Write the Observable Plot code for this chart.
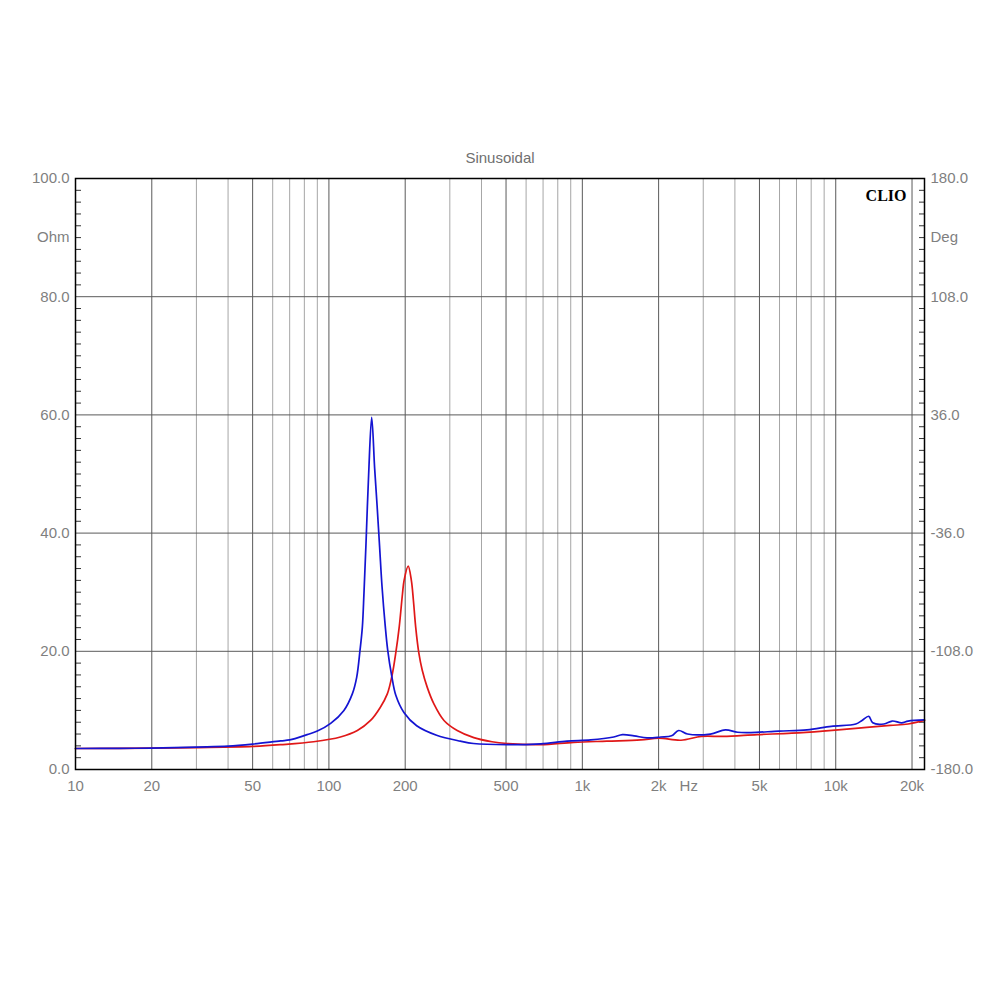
<!DOCTYPE html>
<html>
<head>
<meta charset="utf-8">
<script src="https://cdn.jsdelivr.net/npm/d3@7"></script>
<script src="https://cdn.jsdelivr.net/npm/@observablehq/plot@0.6"></script>
<style>
  html, body { margin: 0; padding: 0; background: #ffffff; }
  #chart { width: 1000px; height: 1000px; }
</style>
</head>
<body>
<div id="chart"></div>
<script>
// ---- data ----
const blueFreq = [10, 15, 20, 30, 40, 50, 64.5, 70, 82, 90, 101.6, 114.6, 123.7, 128.7, 132.6, 135.5, 137.5, 140, 143.5, 147.5, 151.5, 155, 158.6, 162, 166.8, 170.5, 177, 183.5, 198, 222, 266, 330, 372, 505, 685, 870, 1080, 1330, 1440, 1600, 1800, 2040, 2250, 2400, 2600, 3200, 3670, 4100, 4630, 5970, 7700, 9600, 12000, 12700, 13500, 14000, 15500, 16700, 18200, 19300, 22400];
const blueOhm  = [3.55, 3.58, 3.62, 3.8, 3.95, 4.3, 4.85, 5.0, 5.9, 6.5, 7.8, 10, 12.8, 15.6, 20.1, 24.1, 29.8, 38, 50, 59.6, 51, 44.5, 37.5, 31, 24.3, 20.3, 15.8, 12.6, 9.6, 7.4, 5.8, 4.8, 4.4, 4.2, 4.35, 4.8, 5.0, 5.5, 5.9, 5.7, 5.35, 5.5, 5.7, 6.6, 6.0, 6.0, 6.7, 6.3, 6.25, 6.5, 6.7, 7.3, 7.7, 8.3, 9.0, 7.9, 7.7, 8.2, 7.9, 8.2, 8.4];

const redFreq = [10, 20, 30, 50, 64.5, 87, 111, 129.5, 146, 159.4, 170, 178, 183.4, 189.4, 195.1, 198, 205.5, 211.5, 215.5, 220, 226.6, 233.5, 244.4, 259.6, 284.5, 320.8, 373, 440, 505, 685, 925, 1250, 1700, 2000, 2450, 2950, 3600, 4900, 6700, 8900, 12300, 16400, 19300, 22400];
const redOhm  = [3.55, 3.6, 3.7, 3.9, 4.2, 4.7, 5.5, 6.6, 8.3, 10.5, 12.8, 16.2, 19.6, 24.1, 29.7, 32, 34.4, 32, 28.6, 24.1, 19.6, 16.8, 13.9, 11.1, 8.3, 6.6, 5.4, 4.7, 4.4, 4.2, 4.6, 4.8, 5.0, 5.3, 4.95, 5.6, 5.6, 5.9, 6.15, 6.5, 7.0, 7.45, 7.7, 8.3];

// ---- axes / labels ----
const freqTicks = [10, 20, 50, 100, 200, 500, 1000, 2000, 5000, 10000, 20000];
const freqTickLabels = ["10", "20", "50", "100", "200", "500", "1k", "2k", "5k", "10k", "20k"];
const gridStrong = [20, 50, 100, 200, 500, 1000, 2000, 5000, 10000, 20000];
const gridLight = [30, 40, 60, 70, 80, 90, 300, 400, 600, 700, 800, 900, 3000, 4000, 6000, 7000, 8000, 9000];
const ohmTicks = [0, 20, 40, 60, 80, 100];
const ohmLabels = ["0.0", "20.0", "40.0", "60.0", "80.0", "100.0"];
const degLabels = ["-180.0", "-108.0", "-36.0", "36.0", "108.0", "180.0"];
const ohmGrid = [20, 40, 60, 80];
const minorTicks = d3.range(2, 100, 2).filter(v => v % 20 !== 0);
const unitLevel = 90;
const hzPos = 2630;
const titleText = "Sinusoidal";
const brandText = "CLIO";

const blue = blueFreq.map((f, i) => ({f, z: blueOhm[i]}));
const red = redFreq.map((f, i) => ({f, z: redOhm[i]}));

const labelColor = "#7f7f7f";
const font = "'Liberation Sans', Arial, Helvetica, sans-serif";

const chart = Plot.plot({
  width: 1000,
  height: 1000,
  marginLeft: 75,
  marginRight: 76,
  marginTop: 178,
  marginBottom: 231,
  style: {fontFamily: font, fontSize: "15px", color: labelColor, background: "#ffffff"},
  x: {type: "log", domain: [10, 22400], axis: null},
  y: {domain: [0, 100], axis: null},
  marks: [
    Plot.ruleX(gridLight, {stroke: "#a6a6a6", strokeWidth: 1}),
    Plot.ruleX(gridStrong, {stroke: "#5a5a5a", strokeWidth: 1}),
    Plot.ruleY(ohmGrid, {stroke: "#5a5a5a", strokeWidth: 1}),
    // minor inward ticks on both vertical sides
    Plot.axisY({anchor: "left", ticks: minorTicks, tickSize: -6, tickFormat: () => "", label: null, stroke: "#333"}),
    Plot.axisY({anchor: "right", ticks: minorTicks, tickSize: -6, tickFormat: () => "", label: null, stroke: "#333"}),
    // labelled axes
    Plot.axisY({anchor: "left", ticks: ohmTicks, tickSize: 0, tickPadding: 6, tickFormat: (d, i) => ohmLabels[i], label: null, fill: labelColor}),
    Plot.axisY({anchor: "right", ticks: ohmTicks, tickSize: 0, tickPadding: 6, tickFormat: (d, i) => degLabels[i], label: null, fill: labelColor}),
    Plot.text(freqTicks, {x: d => d, text: (d, i) => freqTickLabels[i], frameAnchor: "bottom", dy: 21, fill: labelColor, fontSize: 15}),
    Plot.text(["Hz"], {x: () => hzPos, frameAnchor: "bottom", dy: 21, fill: labelColor, fontSize: 15}),
    Plot.text(["Ohm"], {y: () => unitLevel, frameAnchor: "left", dx: -6, textAnchor: "end", fill: labelColor, fontSize: 15}),
    Plot.text(["Deg"], {y: () => unitLevel, frameAnchor: "right", dx: 6, textAnchor: "start", fill: labelColor, fontSize: 15}),
    Plot.text([titleText], {frameAnchor: "top", dy: -26, fill: "#6f6f6f", fontSize: 15}),
    Plot.text([brandText], {frameAnchor: "top-right", dx: -18, dy: 11, fill: "#000", fontSize: 16, fontWeight: "bold", fontFamily: "'Liberation Serif', 'Times New Roman', serif", textAnchor: "end"}),
    // curves
    Plot.line(red, {x: "f", y: "z", stroke: "#e01818", strokeWidth: 1.7, curve: "catmull-rom"}),
    Plot.line(blue, {x: "f", y: "z", stroke: "#1414d2", strokeWidth: 1.7, curve: "catmull-rom"}),
    Plot.frame({stroke: "#000", strokeWidth: 1.5})
  ]
});
document.getElementById("chart").append(chart);
</script>
</body>
</html>
